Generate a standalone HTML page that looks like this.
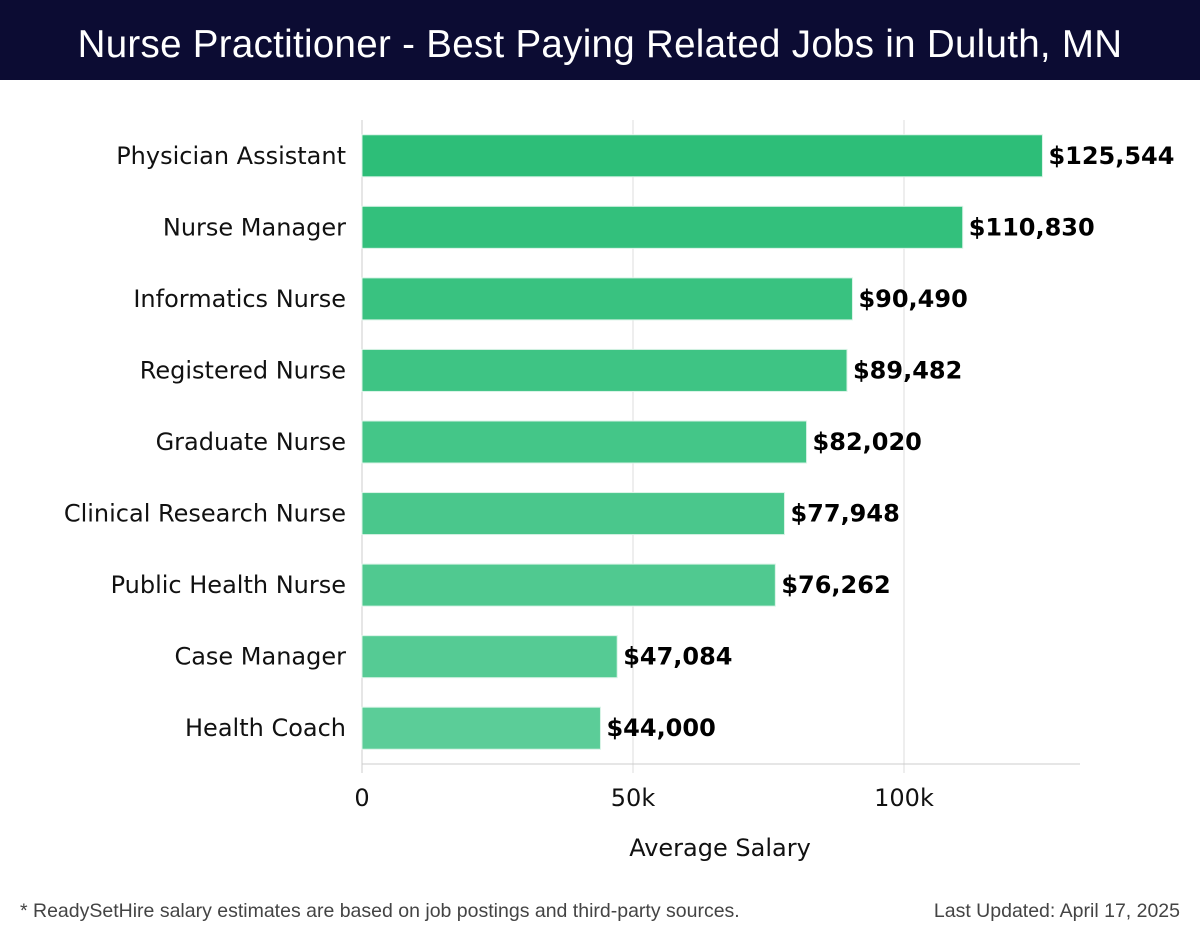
<!DOCTYPE html>
<html><head><meta charset="utf-8"><style>
body{margin:0;width:1200px;height:940px;background:#fff;font-family:"DejaVu Sans","Liberation Sans",sans-serif;overflow:hidden}
#hdr{position:absolute;left:0;top:0;width:1200px;height:80px;background:#0c0c33;color:#fff;font-size:38.5px;text-align:center;line-height:90px;font-family:"Liberation Sans","DejaVu Sans",sans-serif;letter-spacing:0.3px}
.foot{position:absolute;top:900px;font-size:19.5px;color:#444;font-family:"Liberation Sans",sans-serif}
</style></head><body>
<div id="hdr">Nurse Practitioner - Best Paying Related Jobs in Duluth, MN</div>
<svg id="chart" width="1200" height="940" style="position:absolute;left:0;top:0"></svg>
<div class="foot" style="left:20px">* ReadySetHire salary estimates are based on job postings and third-party sources.</div>
<div class="foot" style="right:20px">Last Updated: April 17, 2025</div>
<script>
const categories=["Physician Assistant","Nurse Manager","Informatics Nurse","Registered Nurse","Graduate Nurse","Clinical Research Nurse","Public Health Nurse","Case Manager","Health Coach"];
const values=[125544,110830,90490,89482,82020,77948,76262,47084,44000];
const ticks=[0,50000,100000];
const tickLabels=["0","50k","100k"];
const NS="http://www.w3.org/2000/svg",svg=document.getElementById('chart');
const x0=362,pxPer=271/50000,top0=120,bot=764,band=(bot-top0)/categories.length,bh=42;
const X=v=>x0+v*pxPer;
function mk(t,a){const e=document.createElementNS(NS,t);for(const k in a)e.setAttribute(k,a[k]);svg.appendChild(e);return e;}
ticks.forEach((t,i)=>{
 const g=mk('line',{x1:X(t),x2:X(t),y1:top0,y2:773,stroke:'#ddd','stroke-width':1});
 
 
 const l=mk('text',{x:X(t),y:806,'text-anchor':'middle','font-size':24,fill:'#111'});
 l.textContent=tickLabels[i];
 
 
});
const ax=mk('line',{x1:x0,x2:1080,y1:bot,y2:bot,stroke:'#ccc','stroke-width':1});


const ay=mk('line',{x1:x0,x2:x0,y1:top0,y2:773,stroke:'#ccc','stroke-width':1});


const c1=[45,190,120],c2=[91,205,152];
categories.forEach((c,i)=>{
 const cy=top0+band*(i+0.5),f=i/(categories.length-1);
 const col=`rgb(${c1.map((v,k)=>Math.round(v+(c2[k]-v)*f)).join(',')})`;
 const r=mk('rect',{x:x0,y:cy-bh/2,width:X(values[i])-x0,height:bh,fill:col,stroke:'#d8f3e6','stroke-width':1});
 
 
 const l=mk('text',{x:346,y:cy+8,'text-anchor':'end','font-size':24,fill:'#111'});
 l.textContent=c;
 
 
 const v=mk('text',{x:X(values[i])+6,y:cy+8,'font-size':24,'font-weight':'bold',fill:'#000'});
 v.textContent='$'+values[i].toLocaleString('en-US');
 
 
});
const xt=mk('text',{x:720,y:856,'text-anchor':'middle','font-size':24,fill:'#111'});
xt.textContent='Average Salary';


</script>
</body></html>
